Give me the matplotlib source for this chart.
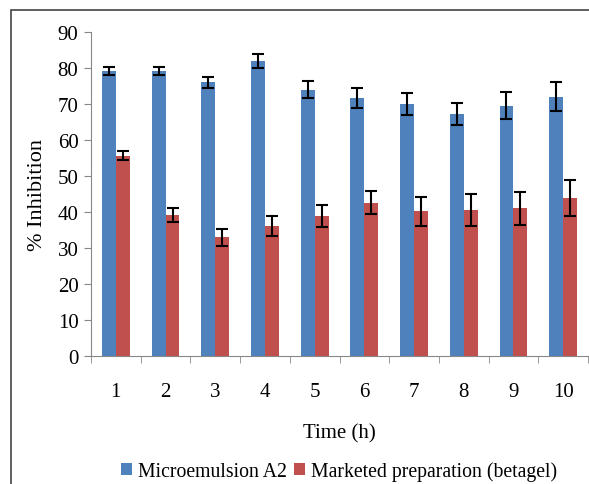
import numpy as np
import matplotlib
matplotlib.use("Agg")
import matplotlib.pyplot as plt
from matplotlib.patches import Rectangle

plt.rcParams['font.family'] = ['Liberation Serif', 'DejaVu Serif']

hours = ['1', '2', '3', '4', '5', '6', '7', '8', '9', '10']
micro = [79.2, 79.2, 76.0, 82.0, 74.0, 71.6, 70.0, 67.2, 69.5, 72.0]
micro_err = [1.1, 1.1, 1.6, 2.0, 2.4, 2.8, 3.0, 3.1, 3.75, 4.0]
betagel = [55.6, 39.2, 32.9, 36.1, 38.9, 42.5, 40.1, 40.6, 41.0, 43.8]
betagel_err = [1.2, 1.9, 2.4, 2.8, 3.0, 3.2, 4.0, 4.4, 4.6, 5.0]

blue = '#4F81BD'
red = '#C0504D'

fig = plt.figure(figsize=(5.89, 4.85), dpi=100)
ax = fig.add_axes([91/589, 1 - 356.7/485, 497/589, (356.7-33)/485])

x = np.arange(len(hours))
w = 0.28
errkw = dict(ecolor='black', capsize=4, elinewidth=1.5, capthick=1.5)
ax.bar(x - w/2, micro, w, yerr=micro_err, color=blue, label='Microemulsion A2', error_kw=errkw)
ax.bar(x + w/2, betagel, w, yerr=betagel_err, color=red, label='Marketed preparation (betagel)', error_kw=errkw)

ax.set_xlim(-0.5, len(hours) - 0.5)
ax.set_ylim(0, 90)
ax.set_yticks(np.arange(0, 91, 10))
ax.set_xticks(x)
ax.set_xticklabels(hours, fontsize=15)
ax.set_xticks(np.arange(-0.5, len(hours), 1), minor=True)
ax.tick_params(axis='x', which='major', length=0, pad=19)
ax.tick_params(axis='x', which='minor', length=5, color='#888888', direction='out')
ax.tick_params(axis='y', labelsize=15, length=5, color='#888888', pad=4)

for s in ['top', 'right']:
    ax.spines[s].set_visible(False)
for s in ['left', 'bottom']:
    ax.spines[s].set_color('#888888')

ax.set_ylabel('% Inhibition', fontsize=16, labelpad=8)
ax.set_xlabel('Time (h)', fontsize=15, labelpad=16)

fig.legend(loc='center', bbox_to_anchor=(339/589, 1 - 472/485), ncol=2, frameon=False,
           fontsize=14.2, handlelength=0.55, handleheight=0.55, handletextpad=0.3,
           columnspacing=0.4)

fig.patches.append(Rectangle((11/589, -0.1), 1.2, (485-11)/485 + 0.1, transform=fig.transFigure,
                             fill=False, edgecolor='#444444', linewidth=1.2))

fig.savefig('out.png', dpi=100)
